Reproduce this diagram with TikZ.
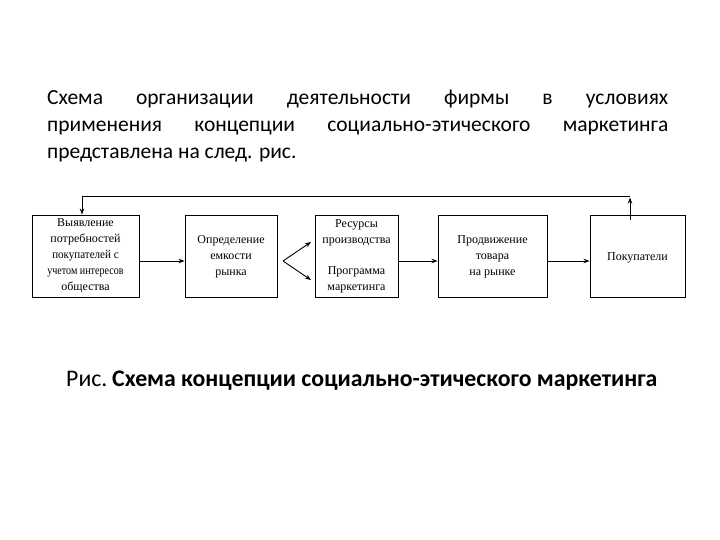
\documentclass[tikz,border=0pt]{standalone}
\usepackage{fontspec}
\setmainfont{Liberation Serif}
\newfontfamily\headfont{Carlito}
\usetikzlibrary{arrows.meta}
\begin{document}
\begin{tikzpicture}[x=1pt,y=-1pt,
  box/.style={draw,line width=0.9pt,inner sep=0pt},
  btext/.style={font=\fontsize{12}{16}\selectfont,align=center,inner sep=0pt},
  head/.style={anchor=base west,inner sep=0pt,font=\headfont\fontsize{21.5}{24}\selectfont},
  arr/.style={line width=0.9pt,-{Stealth[length=6pt,width=4.5pt]}},
  ln/.style={line width=0.9pt}]
\useasboundingbox (0,0) rectangle (720,540);
% heading
\node[head] (h1) at (47,105)
  {\makebox[621pt][s]{Схема организации деятельности фирмы в условиях}};
\node[head] (h2) at (47,132)
  {\makebox[621pt][s]{применения концепции социально-этического маркетинга}};
\node[head] (h3) at (47,159)
  {представлена на след. рис.};
% boxes
\node[box,minimum width=107pt,minimum height=82pt] (b1) at (85.5,256) {};
\node[box,minimum width=92pt,minimum height=82pt] (b2) at (231,256) {};
\node[box,minimum width=83pt,minimum height=82pt] (b3) at (356.5,256) {};
\node[box,minimum width=109pt,minimum height=82pt] (b4) at (492.5,256) {};
\node[box,minimum width=95pt,minimum height=82pt] (b5) at (637.5,256) {};
% texts
\node[btext] (t1) at (85.5,256) {Выявление\\потребностей\\\scalebox{0.92}[1]{покупателей с}\\\scalebox{0.84}[1]{учетом интересов}\\общества};
\node[btext] (t2) at (231,257) {Определение\\емкости\\рынка};
\node[btext] (t3a) at (356.5,233) {Ресурсы\\производства};
\node[btext] (t3b) at (356.5,280) {Программа\\маркетинга};
\node[btext] (t4) at (492.5,257) {Продвижение\\товара\\на рынке};
\node[btext] (t5) at (637.5,258) {Покупатели};
% arrows
\coordinate (v) at (283,261);
\coordinate (u) at (311,242);
\coordinate (d) at (311,280);
\draw[arr] (b1.east |- 0,261) -- (b2.west |- 0,261);
\draw[arr] (v) -- (u);
\draw[arr] (v) -- (d);
\draw[arr] (b3.east |- 0,261) -- (b4.west |- 0,261);
\draw[arr] (b4.east |- 0,261) -- (b5.west |- 0,261);
% feedback
\coordinate (fr) at (630,196);
\coordinate (fl) at (82,196);
\draw[arr] (630,220) -- (630,197.5);
\draw[ln] (fr) -- (fl);
\draw[arr] (fl) -- (b1.north -| fl);
% caption
\node[anchor=base west,inner sep=0pt,font=\headfont\fontsize{23.8}{26}\selectfont] (cap) at (66,386)
  {Рис.\hspace{0.2em}\textbf{Схема концепции социально-этического маркетинга}};
\end{tikzpicture}
\end{document}
